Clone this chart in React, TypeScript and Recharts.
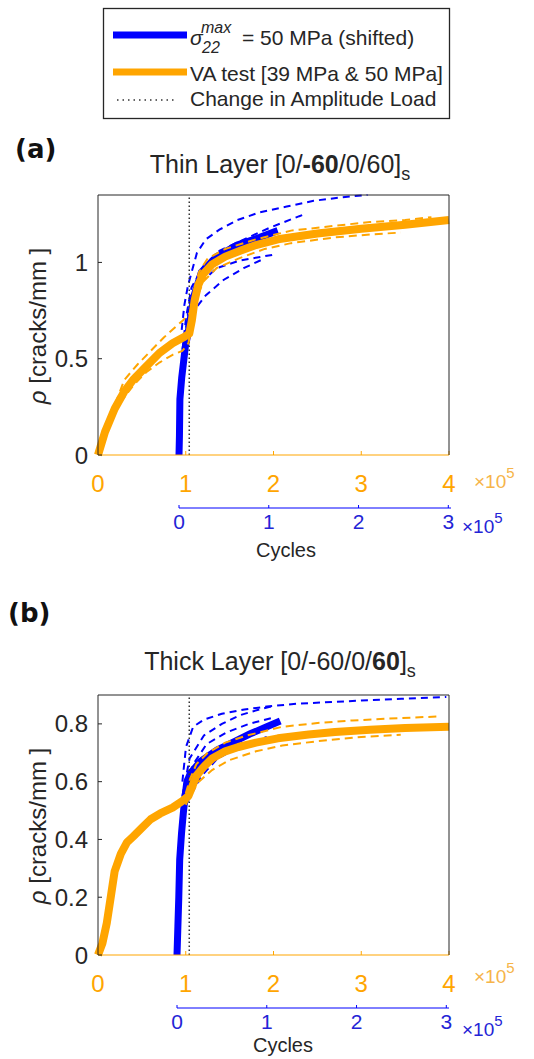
import React from "react";
import { ComposedChart, Line, XAxis, YAxis, ReferenceLine } from "recharts";

const ORANGE = "#FFA500";
const BLUE = "#0000FF";
const INK = "#262626";
const FONT = "'Liberation Sans', Arial, sans-serif";

// axis ticks
const vaTicks = [0, 1, 2, 3, 4];
const shiftTicks = [0, 1, 2, 3];
const frameTicks = [1, 2, 3, 4];
const thinRhoTicks = [0, 0.5, 1];
const thickRhoTicks = [0, 0.2, 0.4, 0.6, 0.8];

// cycle where the amplitude changes (x1e5, VA axis)
const changeAt = 1.04;

// (a) thin layer: VA test, x in 1e5 cycles
const thinVaX = [0, 0.08, 0.19, 0.3, 0.4, 0.55, 0.7, 0.85, 0.97, 1.04, 1.07, 1.1, 1.14, 1.2, 1.3, 1.45, 1.62, 1.8, 2.05, 2.5, 3.0, 3.5, 4.0];
const thinVaRho = [0, 0.12, 0.24, 0.33, 0.39, 0.46, 0.53, 0.58, 0.61, 0.63, 0.7, 0.8, 0.88, 0.94, 0.99, 1.03, 1.06, 1.09, 1.12, 1.15, 1.175, 1.195, 1.22];
const thinVaUpX = [0.1, 0.2, 0.3, 0.45, 0.6, 0.75, 0.87, 0.97, 1.05, 1.1, 1.15, 1.25, 1.45, 1.8, 2.2, 2.7, 3.1, 3.5, 3.8];
const thinVaUpRho = [0.14, 0.27, 0.39, 0.47, 0.54, 0.61, 0.66, 0.7, 0.74, 0.86, 0.95, 1.02, 1.07, 1.12, 1.165, 1.19, 1.21, 1.22, 1.235];
const thinVaLoX = [0.25, 0.4, 0.55, 0.7, 0.85, 0.96, 1.03, 1.08, 1.13, 1.2, 1.35, 1.6, 1.9, 2.2, 2.7, 3.1, 3.45];
const thinVaLoRho = [0.27, 0.36, 0.43, 0.48, 0.52, 0.54, 0.58, 0.7, 0.82, 0.9, 0.97, 1.02, 1.07, 1.1, 1.13, 1.145, 1.155];

// (a) thin layer: 50 MPa model, shifted axis
const thinSimX = [0, 0.005, 0.01, 0.03, 0.05, 0.07, 0.1, 0.13, 0.17, 0.25, 0.42, 0.65, 0.9, 1.1];
const thinSimRho = [0, 0.1, 0.29, 0.4, 0.48, 0.56, 0.63, 0.72, 0.83, 0.95, 1.03, 1.09, 1.13, 1.165];
const thinSim1X = [0.03, 0.06, 0.1, 0.2, 0.3, 0.45, 0.65, 0.9, 1.2, 1.5, 1.85, 2.1];
const thinSim1Rho = [0.65, 0.78, 0.88, 1.05, 1.12, 1.17, 1.22, 1.26, 1.29, 1.32, 1.34, 1.35];
const thinSim2X = [0.04, 0.08, 0.14, 0.27, 0.45, 0.68, 1.01, 1.34, 1.4];
const thinSim2Rho = [0.55, 0.72, 0.87, 0.98, 1.06, 1.11, 1.18, 1.24, 1.25];
const thinSim3X = [0.06, 0.12, 0.23, 0.42, 0.68, 1.05];
const thinSim3Rho = [0.6, 0.8, 0.89, 0.97, 1.01, 1.04];
const thinSim4X = [0.08, 0.15, 0.3, 0.5, 0.72, 0.95];
const thinSim4Rho = [0.6, 0.74, 0.83, 0.91, 0.97, 1.02];

// (b) thick layer: VA test
const thickVaX = [0, 0.05, 0.1, 0.15, 0.19, 0.26, 0.33, 0.4, 0.5, 0.6, 0.71, 0.85, 0.97, 1.03, 1.07, 1.12, 1.2, 1.3, 1.45, 1.6, 1.8, 2.05, 2.4, 2.7, 3.1, 3.5, 4.0];
const thickVaRho = [0, 0.04, 0.11, 0.21, 0.29, 0.35, 0.39, 0.41, 0.44, 0.47, 0.49, 0.51, 0.535, 0.55, 0.58, 0.62, 0.65, 0.68, 0.705, 0.72, 0.735, 0.75, 0.763, 0.772, 0.78, 0.786, 0.79];
const thickVaUpX = [1.0, 1.05, 1.12, 1.25, 1.45, 1.7, 2.1, 2.5, 2.9, 3.3, 3.6, 3.9];
const thickVaUpRho = [0.56, 0.61, 0.66, 0.7, 0.735, 0.76, 0.79, 0.803, 0.812, 0.818, 0.822, 0.826];
const thickVaLoX = [1.0, 1.06, 1.15, 1.3, 1.5, 1.8, 2.1, 2.5, 3.0, 3.45];
const thickVaLoRho = [0.52, 0.56, 0.6, 0.64, 0.675, 0.705, 0.725, 0.74, 0.755, 0.762];

// (b) thick layer: 50 MPa model, shifted axis
const thickSimX = [0, 0.01, 0.02, 0.03, 0.05, 0.07, 0.09, 0.11, 0.15, 0.26, 0.45, 0.65, 0.81, 1.0, 1.15];
const thickSimRho = [0, 0.1, 0.2, 0.33, 0.42, 0.49, 0.55, 0.6, 0.63, 0.67, 0.71, 0.74, 0.765, 0.79, 0.81];
const thickSim1X = [0.06, 0.1, 0.18, 0.3, 0.5, 0.75, 1.0, 1.34, 2.0, 2.5, 3.0];
const thickSim1Rho = [0.6, 0.72, 0.79, 0.815, 0.835, 0.85, 0.86, 0.87, 0.88, 0.887, 0.893];
const thickSim2X = [0.06, 0.14, 0.3, 0.5, 0.7, 0.92, 1.05];
const thickSim2Rho = [0.55, 0.68, 0.76, 0.8, 0.83, 0.85, 0.86];
const thickSim3X = [0.08, 0.18, 0.33, 0.55, 0.8, 1.05];
const thickSim3Rho = [0.55, 0.66, 0.73, 0.77, 0.8, 0.82];
const thickSim4X = [0.1, 0.26, 0.45, 0.7, 1.0];
const thickSim4Rho = [0.52, 0.615, 0.68, 0.72, 0.755];

type Pt = { x: number; y: number };
const pts = (xs: number[], ys: number[]): Pt[] => xs.map((x, i) => ({ x, y: ys[i] }));

type PanelProps = {
  top: number; // page y of chart top
  yDomain: [number, number];
  yTicks: number[];
  blueLeft: number;
  blueRight: number;
  va: Pt[];
  vaUp: Pt[];
  vaLo: Pt[];
  sim: Pt[];
  simRuns: Pt[][];
};

function Panel({ top, yDomain, yTicks, blueLeft, blueRight, va, vaUp, vaLo, sim, simRuns }: PanelProps) {
  return (
    <>
      {/* shifted model curves with their own axis, drawn underneath */}
      <div style={{ position: "absolute", left: 0, top, width: 534, height: 363 }}>
        <ComposedChart width={534} height={363} margin={{ top: 10, right: 534 - blueRight, bottom: 0, left: blueLeft }}>
          <XAxis xAxisId="gap" type="number" domain={[0, 1]} height={53} tick={false} tickLine={false} axisLine={false} allowDataOverflow />
          <XAxis
            xAxisId="shift"
            type="number"
            dataKey="x"
            domain={[0, 3.03]}
            ticks={shiftTicks}
            interval={0}
            height={40}
            stroke={BLUE}
            tickSize={-3}
            tickMargin={9}
            tick={{ fill: "#2424D6", fontSize: 21 }}
          />
          <YAxis yAxisId="rho" type="number" domain={yDomain} hide />
          {simRuns.map((run, i) => (
            <Line
              key={i}
              xAxisId="shift"
              yAxisId="rho"
              data={run}
              dataKey="y"
              type="linear"
              stroke={BLUE}
              strokeWidth={2}
              strokeDasharray="7 5"
              dot={false}
              isAnimationActive={false}
            />
          ))}
          <Line
            xAxisId="shift"
            yAxisId="rho"
            data={sim}
            dataKey="y"
            type="linear"
            stroke={BLUE}
            strokeWidth={7}
            dot={false}
            isAnimationActive={false}
          />
        </ComposedChart>
      </div>

      <div style={{ position: "absolute", left: 0, top, width: 534, height: 323 }}>
        <ComposedChart width={534} height={323} margin={{ top: 0, right: 84, bottom: 0, left: 0 }}>
          <XAxis
            xAxisId="frame"
            orientation="top"
            type="number"
            domain={[-0.05, 4.95]}
            ticks={frameTicks}
            interval={0}
            height={10}
            tick={false}
            tickSize={-4}
            stroke={INK}
            allowDataOverflow
          />
          <XAxis
            xAxisId="va"
            type="number"
            dataKey="x"
            domain={[0, 4]}
            ticks={vaTicks}
            interval={0}
            height={53}
            stroke={ORANGE}
            tickSize={-4}
            tickMargin={24}
            tick={{ fill: ORANGE, fontSize: 24 }}
          />
          <YAxis
            yAxisId="rho"
            type="number"
            domain={yDomain}
            ticks={yTicks}
            interval={0}
            width={98}
            stroke={INK}
            tickSize={-4}
            tickMargin={14}
            tick={{ fill: INK, fontSize: 24 }}
          />
          <YAxis yAxisId="box" orientation="right" type="number" domain={yDomain} width={1} tick={false} tickLine={false} stroke={INK} allowDataOverflow />
          <ReferenceLine xAxisId="va" yAxisId="rho" x={changeAt} stroke="#333" strokeWidth={1.5} strokeDasharray="1.5 2.5" />
          {[vaUp, vaLo].map((run, i) => (
            <Line
              key={i}
              xAxisId="va"
              yAxisId="rho"
              data={run}
              dataKey="y"
              type="linear"
              stroke={ORANGE}
              strokeWidth={2}
              strokeDasharray="8 5"
              dot={false}
              isAnimationActive={false}
            />
          ))}
          <Line
            xAxisId="va"
            yAxisId="rho"
            data={va}
            dataKey="y"
            type="linear"
            stroke={ORANGE}
            strokeWidth={8}
            strokeLinejoin="round"
            dot={false}
            isAnimationActive={false}
          />
        </ComposedChart>
      </div>
    </>
  );
}

function Exponent({ x, y, color }: { x: number; y: number; color: string }) {
  return (
    <text x={x} y={y} fill={color} fontSize={19}>
      ×10
      <tspan dy={-10} fontSize={15}>
        5
      </tspan>
    </text>
  );
}

export default function App() {
  return (
    <div style={{ position: "absolute", left: 0, top: 0, width: 534, height: 1059, background: "#fff", fontFamily: FONT, overflow: "hidden" }}>
      <Panel
        top={185}
        yDomain={[0, 1.35]}
        yTicks={thinRhoTicks}
        blueLeft={179}
        blueRight={451}
        va={pts(thinVaX, thinVaRho)}
        vaUp={pts(thinVaUpX, thinVaUpRho)}
        vaLo={pts(thinVaLoX, thinVaLoRho)}
        sim={pts(thinSimX, thinSimRho)}
        simRuns={[pts(thinSim1X, thinSim1Rho), pts(thinSim2X, thinSim2Rho), pts(thinSim3X, thinSim3Rho), pts(thinSim4X, thinSim4Rho)]}
      />
      <Panel
        top={685}
        yDomain={[0, 0.9]}
        yTicks={thickRhoTicks}
        blueLeft={177}
        blueRight={449}
        va={pts(thickVaX, thickVaRho)}
        vaUp={pts(thickVaUpX, thickVaUpRho)}
        vaLo={pts(thickVaLoX, thickVaLoRho)}
        sim={pts(thickSimX, thickSimRho)}
        simRuns={[pts(thickSim1X, thickSim1Rho), pts(thickSim2X, thickSim2Rho), pts(thickSim3X, thickSim3Rho), pts(thickSim4X, thickSim4Rho)]}
      />

      <svg width={534} height={1059} style={{ position: "absolute", left: 0, top: 0, pointerEvents: "none" }}>
        {/* legend */}
        <rect x={103.5} y={8.5} width={346} height={110} fill="#fff" stroke={INK} strokeWidth={1.3} />
        <line x1={113} x2={187} y1={35} y2={35} stroke={BLUE} strokeWidth={7} />
        <text x={190} y={45} fontSize={21} fill={INK} fontStyle="italic">σ</text>
        <text x={201} y={33} fontSize={16} fill={INK} fontStyle="italic">max</text>
        <text x={202} y={53} fontSize={16} fill={INK} fontStyle="italic">22</text>
        <text x={242} y={45} fontSize={21} fill={INK}>= 50 MPa (shifted)</text>
        <line x1={113} x2={187} y1={72} y2={72} stroke={ORANGE} strokeWidth={7} />
        <text x={190} y={81} fontSize={21} fill={INK}>VA test [39 MPa &amp; 50 MPa]</text>
        <line x1={117} x2={177} y1={100} y2={100} stroke="#333" strokeWidth={1.5} strokeDasharray="1.5 4" />
        <text x={190} y={106} fontSize={21} fill={INK}>Change in Amplitude Load</text>

        {/* panel (a) */}
        <text x={15} y={158} fontSize={26} fontWeight="bold" fontFamily="'DejaVu Sans', sans-serif" fill="#111">(a)</text>
        <text x={280} y={173} fontSize={25} fill={INK} textAnchor="middle">
          Thin Layer [0/<tspan fontWeight="bold">-60</tspan>/0/60]
          <tspan fontSize={18} dy={7}>s</tspan>
        </text>
        <text x={37} y={326} fontSize={24} fill={INK} textAnchor="middle" dominantBaseline="central" transform="rotate(-90 37 326)">
          <tspan fontStyle="italic">ρ</tspan> [cracks/mm ]
        </text>
        <Exponent x={474} y={488} color="#F6B449" />
        <Exponent x={462} y={533} color="#2424D6" />
        <text x={286} y={557} fontSize={20} fill={INK} textAnchor="middle">Cycles</text>

        {/* panel (b) */}
        <text x={8} y={622} fontSize={26} fontWeight="bold" fontFamily="'DejaVu Sans', sans-serif" fill="#111">(b)</text>
        <text x={280} y={670} fontSize={25} fill={INK} textAnchor="middle">
          Thick Layer [0/-60/0/<tspan fontWeight="bold">60</tspan>]
          <tspan fontSize={18} dy={7}>s</tspan>
        </text>
        <text x={37} y={826} fontSize={24} fill={INK} textAnchor="middle" dominantBaseline="central" transform="rotate(-90 37 826)">
          <tspan fontStyle="italic">ρ</tspan> [cracks/mm ]
        </text>
        <Exponent x={474} y={983} color="#F6B449" />
        <Exponent x={462} y={1036} color="#2424D6" />
        <text x={283} y={1052} fontSize={20} fill={INK} textAnchor="middle">Cycles</text>
      </svg>
    </div>
  );
}
